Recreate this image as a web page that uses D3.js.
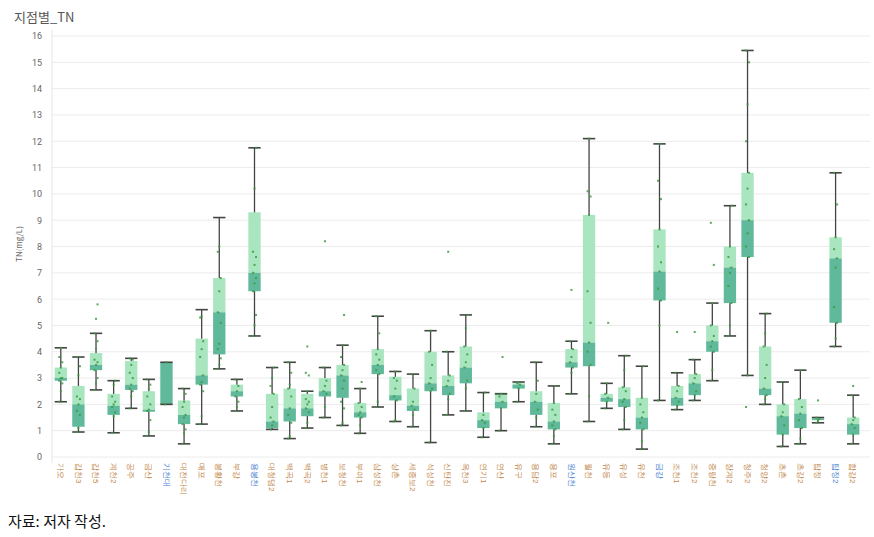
<!DOCTYPE html>
<html><head><meta charset="utf-8">
<script src="https://cdn.jsdelivr.net/npm/d3@7"></script>
<style>
body{margin:0;background:#fff;font-family:"Noto Sans CJK KR","Noto Sans",sans-serif;}
</style></head>
<body><svg id="c" width="874" height="537"></svg>
<script>
const stations = ["가오","갑천3","갑천5","계천2","공주","금산","기천대","대전다리","매포","봉황천","부강","용봉천","대청댐2","백곡1","백곡2","병천1","보청천","부여1","삼성천","상촌","세종보2","석성천","신탄진","옥천3","연기1","연산","유구","용담2","용포","원산천","월천","유등","유성","유천","금강","조천1","조천2","중랑천","장계2","청주2","청양2","초촌","초강2","탑정","탑정2","합강2"];
const labelColor = ["o","o","o","o","o","o","b","o","o","o","o","b","o","o","o","o","o","o","o","o","o","o","o","o","o","o","o","o","o","b","o","o","o","o","b","o","o","o","o","o","o","o","o","o","b","o"];
const whiskerLow  = [2.1,0.95,2.55,0.92,1.85,0.8,2.0,0.5,1.25,3.35,1.75,4.6,1.05,0.7,1.1,1.5,1.2,0.9,1.9,1.35,1.15,0.55,1.6,1.75,0.75,1.0,2.1,1.15,0.5,2.4,1.35,1.85,1.05,0.3,2.15,1.8,2.15,2.9,4.6,3.1,2.0,0.4,0.5,1.3,4.2,0.5];
const q1          = [2.9,1.15,3.3,1.6,2.55,1.72,2.0,1.25,2.75,3.9,2.3,6.3,1.1,1.35,1.55,2.3,2.25,1.5,3.15,2.15,1.75,2.5,2.35,2.8,1.1,1.85,2.6,1.6,1.05,3.4,3.45,2.1,1.9,1.05,5.95,1.95,2.35,4.0,5.85,7.6,2.35,0.85,1.1,1.4,5.1,0.85];
const median      = [3.0,2.0,3.5,1.95,2.75,1.8,3.6,1.6,3.1,5.5,2.5,7.0,1.35,1.85,1.85,2.5,3.1,1.7,3.5,2.35,1.95,2.8,2.7,3.4,1.4,2.1,2.75,2.1,1.35,3.6,4.35,2.25,2.2,1.5,7.05,2.25,2.8,4.4,7.2,9.0,2.6,1.55,1.65,1.45,7.55,1.25];
const q3          = [3.4,2.7,3.95,2.4,3.65,2.5,3.6,2.15,4.5,6.8,2.75,9.3,2.4,2.6,2.4,3.0,3.5,2.05,4.1,3.05,2.6,4.0,3.1,4.2,1.7,2.45,2.8,2.5,2.05,4.1,9.2,2.4,2.65,2.25,8.65,2.7,3.15,5.0,8.0,10.8,4.2,2.0,2.2,1.5,8.35,1.5];
const whiskerHigh = [4.15,3.8,4.7,2.9,3.75,2.95,3.6,2.6,5.6,9.1,2.95,11.75,3.4,3.6,2.5,3.4,4.25,2.6,5.35,3.25,3.15,4.8,4.0,5.4,2.45,2.4,2.85,3.6,2.7,4.4,12.1,2.8,3.85,3.45,11.9,3.2,3.7,5.85,9.55,15.45,5.45,2.85,3.3,1.5,10.8,2.35];
const points = [
 [2.1,2.5,2.8,2.9,3.0,3.0,3.2,3.4,3.6,3.8,4.15],
 [0.95,1.1,1.6,1.75,2.0,2.2,2.3,3.1,3.45,3.8],
 [2.55,2.8,3.0,3.3,3.5,3.6,3.7,4.1,4.4,4.7,5.25,5.8],
 [0.92,1.55,1.7,1.9,2.0,2.1,2.3,2.75,2.9],
 [1.85,2.3,2.5,2.6,2.75,3.0,3.2,3.5,3.7,3.75],
 [0.8,0.95,1.4,1.75,1.8,2.0,2.3,2.6,2.75,2.95],
 [2.0,3.6],
 [0.5,0.9,1.05,1.25,1.5,1.6,1.9,2.1,2.4,2.6],
 [1.25,1.55,2.5,2.75,2.85,3.1,3.8,4.1,4.4,5.3,5.35],
 [3.35,3.5,3.75,4.1,4.3,5.1,5.5,6.3,6.8,7.8,8.0],
 [1.75,1.9,2.1,2.3,2.5,2.7,2.95],
 [4.6,5.0,5.4,6.3,6.6,6.8,7.0,7.3,7.6,7.8,10.2,11.75],
 [1.05,1.2,1.35,1.5,1.9,2.4,2.7,3.0,3.4],
 [0.7,0.8,1.3,1.6,1.85,2.3,2.6,2.75,3.2,3.6],
 [1.1,1.3,1.7,1.85,2.0,2.1,2.2,2.5,3.1,3.2,4.2],
 [1.5,1.9,2.4,2.5,2.7,2.9,3.4,8.2],
 [1.2,1.3,1.85,2.1,2.6,2.9,3.1,3.3,3.5,3.8,4.25,5.4],
 [0.9,1.2,1.5,1.6,1.7,1.9,2.05,2.6,2.85],
 [1.9,2.1,3.15,3.3,3.5,3.7,3.9,4.1,4.7,5.35],
 [1.35,1.4,2.15,2.3,2.6,2.9,3.0,3.25],
 [1.15,1.6,1.8,1.95,2.1,2.6,3.15],
 [0.55,2.5,2.6,2.8,3.0,3.5,4.0,4.8],
 [1.6,2.2,2.4,2.7,2.9,3.1,4.0,7.8],
 [1.75,2.6,2.9,3.4,3.6,3.9,4.2,4.9,5.4],
 [0.75,1.1,1.3,1.4,1.6,2.45],
 [1.0,1.85,2.1,2.3,2.4,3.8],
 [2.1,2.6,2.75,2.8,2.85],
 [1.15,1.5,1.8,2.1,2.4,2.9,3.6],
 [0.5,0.8,1.05,1.2,1.35,1.6,1.8,2.05,2.7],
 [2.4,3.2,3.4,3.6,3.8,4.1,4.4,6.35],
 [1.35,2.3,3.5,4.0,4.35,5.1,6.3,9.2,9.9,10.1,12.1],
 [1.85,2.1,2.25,2.4,2.8,5.1],
 [1.05,1.4,1.9,2.1,2.2,2.5,2.65,3.3,3.85],
 [0.3,0.6,1.05,1.3,1.5,1.7,2.0,2.25,3.45],
 [2.15,5.0,5.95,6.4,7.05,7.4,8.0,8.65,9.8,10.5,11.9],
 [1.8,1.95,2.1,2.25,2.5,2.7,3.2,4.75],
 [2.15,2.35,2.5,2.8,3.0,3.15,3.7,4.75],
 [2.9,3.3,4.0,4.2,4.4,4.6,5.0,5.85,7.3,8.9],
 [4.6,5.0,5.85,6.5,7.0,7.2,7.6,8.0,9.55],
 [1.9,3.1,7.6,8.0,8.5,9.0,9.6,10.2,10.8,12.0,13.4,15.0,15.45],
 [2.0,2.2,2.35,2.6,3.0,3.5,4.2,4.7,5.45],
 [0.4,0.85,1.2,1.55,1.7,2.0,2.85],
 [0.5,0.7,1.1,1.4,1.65,1.9,2.2,3.3],
 [1.3,1.4,1.45,1.5,2.15],
 [4.2,4.5,5.1,5.7,7.2,7.55,7.9,8.35,9.6,10.8],
 [0.5,0.85,1.1,1.25,1.4,1.5,2.35,2.7]
];
const yTicks = d3.range(0,17);

const svg = d3.select("#c");
const m = {l:52, r:862, t:36, b:457};
const x = d3.scaleBand().domain(stations).range([m.l, m.r]).paddingInner(0.3).paddingOuter(0.15);
const y = d3.scaleLinear().domain([0,16]).range([m.b, m.t]);

svg.append("text").attr("x",14).attr("y",22).attr("font-size",13).attr("fill","#555").text("지점별_TN");

// grid
svg.append("g").selectAll("line").data(yTicks).join("line")
  .attr("x1",m.l).attr("x2",870).attr("y1",d=>y(d)).attr("y2",d=>y(d))
  .attr("stroke","#ececec").attr("stroke-width",1);
svg.append("line").attr("x1",m.l).attr("x2",m.l).attr("y1",30).attr("y2",463).attr("stroke","#e4e4e4");

const yAxis = svg.append("g").attr("transform",`translate(${m.l},0)`)
  .call(d3.axisLeft(y).tickValues(yTicks).tickSize(0).tickPadding(10));
yAxis.select(".domain").remove();
yAxis.selectAll("text").attr("font-size",9).attr("fill","#666").attr("font-family","Roboto, sans-serif");

svg.append("text").attr("transform","translate(22,244) rotate(-90)").attr("text-anchor","middle")
  .attr("font-size",8).attr("fill","#666").text("TN(mg/L)");

const bw = x.bandwidth();
const g = svg.append("g");
stations.forEach((s,i)=>{
  const cx = x(s)+bw/2;
  const gg = g.append("g");
  gg.append("line").attr("x1",cx).attr("x2",cx).attr("y1",y(whiskerLow[i])).attr("y2",y(whiskerHigh[i])).attr("stroke","#444").attr("stroke-width",1.3);
  gg.append("rect").attr("x",x(s)).attr("width",bw).attr("y",y(q3[i])).attr("height",Math.max(0,y(median[i])-y(q3[i]))).attr("fill","#a9e6c0");
  gg.append("rect").attr("x",x(s)).attr("width",bw).attr("y",y(median[i])).attr("height",Math.max(0,y(q1[i])-y(median[i]))).attr("fill","#5fb99a");
  [whiskerLow[i],whiskerHigh[i]].forEach(v=>{
    gg.append("line").attr("x1",x(s)).attr("x2",x(s)+bw).attr("y1",y(v)).attr("y2",y(v)).attr("stroke","#444").attr("stroke-width",1.6);
  });
  gg.selectAll("rect.p").data(points[i]).join("rect").attr("class","p")
    .attr("x",(d,j)=>cx-1+((j%3)-1)*1.5).attr("y",d=>y(d)-1).attr("width",2).attr("height",2)
    .attr("fill","#3c9a42").attr("opacity",0.85);
});

const xa = svg.append("g").attr("transform",`translate(0,${m.b})`).call(d3.axisBottom(x).tickSize(0).tickPadding(4));
xa.select(".domain").remove();
xa.selectAll("text").attr("transform","rotate(90)").attr("text-anchor","start")
  .attr("x",6).attr("y",0).attr("dy","0.35em")
  .attr("font-size",8).attr("fill",(d,i)=>labelColor[i]==="b"?"#4a7fd0":"#c2874a");

svg.append("text").attr("x",8).attr("y",527).attr("font-size",15).attr("fill","#111").text("자료: 저자 작성.");
</script></body></html>
